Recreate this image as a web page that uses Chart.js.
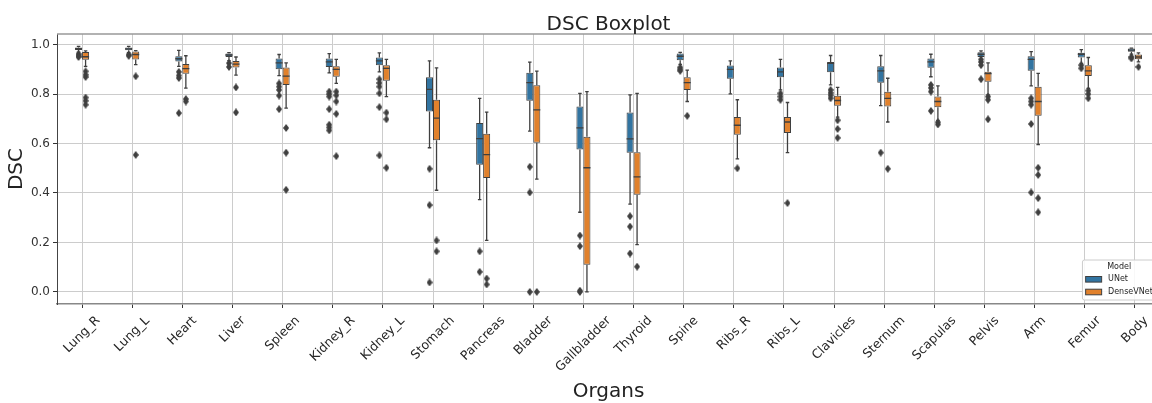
<!DOCTYPE html>
<html>
<head>
<meta charset="utf-8">
<title>DSC Boxplot</title>
<script src="https://cdn.jsdelivr.net/npm/chart.js@4.4.0/dist/chart.umd.min.js"></script>
<style>
  html, body { margin: 0; padding: 0; background: #fff; overflow: hidden; }
  #wrap { width: 1170px; height: 403px; }
</style>
</head>
<body>
<div id="wrap"><canvas id="dscChart" width="1170" height="403"></canvas></div>
<script>
// categorias
const organs = ['Lung_R','Lung_L','Heart','Liver','Spleen','Kidney_R','Kidney_L','Stomach','Pancreas','Bladder',
  'Gallbladder','Thyroid','Spine','Ribs_R','Ribs_L','Clavicles','Sternum','Scapulas','Pelvis','Arm','Femur','Body'];
const models = ['UNet', 'DenseVNet'];
const yTicks = [0.0, 0.2, 0.4, 0.6, 0.8, 1.0];

// UNet: whisker low, q1, median, q3, whisker high, outliers
const unetLow  = [0.970,0.968,0.912,0.935,0.875,0.886,0.890,0.583,0.373,0.650,0.322,0.355,0.920,0.801,0.817,0.837,0.753,0.870,0.930,0.833,0.924,0.962];
const unetQ1   = [0.978,0.977,0.932,0.950,0.900,0.910,0.917,0.730,0.514,0.773,0.576,0.563,0.937,0.862,0.868,0.888,0.846,0.906,0.950,0.894,0.948,0.971];
const unetMed  = [0.984,0.983,0.943,0.958,0.926,0.930,0.934,0.819,0.620,0.846,0.663,0.619,0.953,0.900,0.890,0.924,0.894,0.930,0.961,0.940,0.961,0.978];
const unetQ3   = [0.988,0.988,0.953,0.964,0.944,0.944,0.948,0.868,0.683,0.886,0.750,0.726,0.964,0.916,0.908,0.930,0.913,0.944,0.969,0.953,0.967,0.984];
const unetHigh = [0.993,0.993,0.977,0.968,0.960,0.964,0.967,0.934,0.783,0.929,0.803,0.797,0.969,0.934,0.940,0.956,0.956,0.961,0.975,0.972,0.980,0.986];
const unetOut  = [
  [0.962,0.955,0.950], [0.960,0.955], [0.890,0.875,0.865,0.723], [0.925,0.910],
  [0.843,0.830,0.817,0.794,0.739], [0.810,0.800,0.790,0.739,0.676,0.665,0.653],
  [0.860,0.845,0.830,0.803,0.747,0.552], [0.498,0.351,0.038], [0.164,0.081], [0.506,0.402,0.0],
  [0.228,0.185,0.0,0.005], [0.306,0.264,0.155], [0.908,0.900,0.894], [], [0.803,0.790,0.777],
  [0.817,0.805,0.795,0.783], [0.563], [0.837,0.825,0.810,0.732], [0.940,0.930,0.917,0.860],
  [0.783,0.770,0.757,0.679,0.402], [0.917,0.904], [0.950,0.944]
];

// DenseVNet
const denseLow  = [0.912,0.919,0.824,0.877,0.743,0.843,0.790,0.411,0.208,0.456,0.000,0.191,0.770,0.538,0.563,0.707,0.687,0.694,0.797,0.596,0.823,0.930];
const denseQ1   = [0.939,0.940,0.882,0.908,0.837,0.870,0.854,0.613,0.461,0.603,0.110,0.393,0.817,0.636,0.643,0.753,0.750,0.747,0.850,0.712,0.873,0.941];
const denseMed  = [0.951,0.960,0.903,0.921,0.873,0.900,0.904,0.703,0.555,0.736,0.502,0.465,0.846,0.674,0.687,0.774,0.783,0.770,0.883,0.770,0.894,0.950];
const denseQ3   = [0.970,0.972,0.922,0.934,0.908,0.913,0.917,0.777,0.640,0.836,0.627,0.565,0.868,0.707,0.707,0.793,0.809,0.790,0.890,0.830,0.917,0.960];
const denseHigh = [0.975,0.976,0.955,0.950,0.926,0.940,0.940,0.906,0.727,0.893,0.810,0.803,0.897,0.777,0.766,0.827,0.864,0.833,0.926,0.884,0.948,0.967];
const denseOut  = [
  [0.892,0.878,0.869,0.786,0.773,0.757], [0.872,0.554], [0.780,0.770], [0.827,0.726],
  [0.663,0.563,0.413], [0.810,0.795,0.770,0.720,0.549], [0.725,0.698,0.502], [0.208,0.164],
  [0.054,0.030], [0.0], [], [0.102], [0.712], [0.500], [0.359], [0.694,0.659,0.623], [0.498],
  [0.686,0.677], [0.790,0.777,0.698], [0.502,0.473,0.379,0.322], [0.814,0.800,0.783], [0.910]
];

const colors = ['#3274a1', '#e1812c'];
const edge = '#3f3f3f';
const FONT = '"DejaVu Sans", "Liberation Sans", sans-serif';
const HALF = 0.07;   // meia largura da caixa (unidades do eixo x)
const CAP = 0.035;   // meia largura do cap

// losango fino para os outliers (marcador 'd')
function thinDiamond() {
  const c = document.createElement('canvas');
  c.width = 6; c.height = 8;
  const g = c.getContext('2d');
  g.fillStyle = edge;
  g.beginPath();
  g.moveTo(3, 0); g.lineTo(6, 4); g.lineTo(3, 8); g.lineTo(0, 4);
  g.closePath(); g.fill();
  return c;
}
const diamond = thinDiamond();

function boxData(q1, q3) {
  return organs.map((_, i) => ({ x: i, y: [q1[i], q3[i]] }));
}

function whiskerData(lo, q1, q3, hi, off) {
  const pts = [];
  organs.forEach((_, i) => {
    const cx = i + off;
    pts.push({x: cx, y: lo[i]}, {x: cx, y: q1[i]}, {x: cx, y: null});
    pts.push({x: cx, y: q3[i]}, {x: cx, y: hi[i]}, {x: cx, y: null});
    pts.push({x: cx - CAP, y: lo[i]}, {x: cx + CAP, y: lo[i]}, {x: cx, y: null});
    pts.push({x: cx - CAP, y: hi[i]}, {x: cx + CAP, y: hi[i]}, {x: cx, y: null});
  });
  return pts;
}

function medianData(med, off) {
  const pts = [];
  organs.forEach((_, i) => {
    const cx = i + off;
    pts.push({x: cx - HALF, y: med[i]}, {x: cx + HALF, y: med[i]}, {x: cx, y: null});
  });
  return pts;
}

function outlierData(out, off) {
  const pts = [];
  out.forEach((vals, i) => vals.forEach(v => pts.push({ x: i + off, y: v })));
  return pts;
}

const lineBase = { type: 'line', borderColor: edge, borderWidth: 1.3, pointRadius: 0, spanGaps: false, fill: false };

const datasets = [
  { ...lineBase, label: 'med-unet', data: medianData(unetMed, -HALF), order: 0 },
  { ...lineBase, label: 'med-dense', data: medianData(denseMed, HALF), order: 0 },
  { type: 'scatter', label: 'out-unet', data: outlierData(unetOut, -HALF), pointStyle: diamond,
    pointRadius: 3, order: 1 },
  { type: 'scatter', label: 'out-dense', data: outlierData(denseOut, HALF), pointStyle: diamond,
    pointRadius: 3, order: 1 },
  { type: 'bar', label: models[0], data: boxData(unetQ1, unetQ3), backgroundColor: colors[0],
    borderColor: edge, borderWidth: 1, borderSkipped: false, categoryPercentage: 0.28, barPercentage: 1, order: 2 },
  { type: 'bar', label: models[1], data: boxData(denseQ1, denseQ3), backgroundColor: colors[1],
    borderColor: edge, borderWidth: 1, borderSkipped: false, categoryPercentage: 0.28, barPercentage: 1, order: 2 },
  { ...lineBase, label: 'wh-unet', data: whiskerData(unetLow, unetQ1, unetQ3, unetHigh, -HALF), order: 3 },
  { ...lineBase, label: 'wh-dense', data: whiskerData(denseLow, denseQ1, denseQ3, denseHigh, HALF), order: 3 }
];

// titulo, rotulos rotacionados, legenda e borda de cima
const decor = {
  id: 'decor',
  afterDraw(chart) {
    const { ctx, chartArea: ca, scales: { x } } = chart;
    ctx.save();

    ctx.strokeStyle = '#999';
    ctx.lineWidth = 1.5;
    ctx.beginPath(); ctx.moveTo(ca.left, ca.top); ctx.lineTo(ca.right, ca.top); ctx.stroke();

    ctx.fillStyle = '#222';
    ctx.font = '20px ' + FONT;
    ctx.textAlign = 'center';
    ctx.textBaseline = 'alphabetic';
    ctx.fillText('DSC Boxplot', (ca.left + ca.right) / 2, ca.top - 4.5);

    // rotulos do eixo x, centrados no tick (45 graus)
    const fs = 12.5;
    ctx.font = fs + 'px ' + FONT;
    ctx.fillStyle = '#262626';
    ctx.textBaseline = 'middle';
    organs.forEach((name, i) => {
      const px = x.getPixelForValue(i);
      const w = ctx.measureText(name).width;
      const s = (w + fs * 1.17) / Math.SQRT2;
      ctx.save();
      ctx.translate(px, ca.bottom + 9.5 + s / 2);
      ctx.rotate(-Math.PI / 4);
      ctx.fillText(name, 0, 0);
      ctx.restore();
    });

    // legenda
    const lf = 8;
    ctx.font = lf + 'px ' + FONT;
    const tw = Math.max(...models.map(m => ctx.measureText(m).width));
    const lw = 0.4 * lf + 2 * lf + 0.8 * lf + tw + 0.4 * lf;
    const right = ca.right - 4, bottom = ca.bottom - 4, top = bottom - 40, left = right - lw;
    ctx.fillStyle = 'rgba(255,255,255,0.85)';
    ctx.strokeStyle = '#cccccc';
    ctx.lineWidth = 1;
    ctx.beginPath();
    ctx.roundRect(left, top, lw, bottom - top, 2);
    ctx.fill(); ctx.stroke();
    ctx.fillStyle = '#262626';
    ctx.textAlign = 'center';
    ctx.fillText('Model', (left + right) / 2, top + 7);
    ctx.textAlign = 'left';
    models.forEach((m, k) => {
      const cy = top + 19.3 + k * 12.7;
      ctx.fillStyle = colors[k];
      ctx.fillRect(left + 3.2, cy - 2.8, 16, 5.6);
      ctx.strokeStyle = edge;
      ctx.strokeRect(left + 3.2, cy - 2.8, 16, 5.6);
      ctx.fillStyle = '#262626';
      ctx.fillText(m, left + 25.6, cy);
    });

    ctx.restore();
  }
};

new Chart(document.getElementById('dscChart'), {
  data: { datasets },
  options: {
    responsive: false,
    devicePixelRatio: 1,
    animation: false,
    layout: { padding: { top: 34, right: 10, left: 0, bottom: 0 } },
    plugins: { legend: { display: false }, tooltip: { enabled: false } },
    scales: {
      x: {
        type: 'linear',
        min: -0.5, max: 21.5,
        offset: false,
        afterBuildTicks: s => { s.ticks = organs.map((_, i) => ({ value: i })); },
        afterFit: s => { s.height = 99; },
        ticks: { display: false },
        grid: { offset: false, color: '#cccccc', lineWidth: 1, tickColor: '#333', tickLength: 4 },
        border: { color: '#888', width: 1.5 },
        title: { display: true, text: 'Organs', color: '#222', font: { family: FONT, size: 20, lineHeight: 1 }, padding: { top: 0, bottom: 1 } }
      },
      y: {
        min: -0.049, max: 1.043,
        afterBuildTicks: s => { s.ticks = yTicks.map(v => ({ value: v })); },
        afterFit: s => { s.width = 57; },
        ticks: { color: '#333', padding: 3, font: { family: FONT, size: 12 }, callback: v => Number(v).toFixed(1) },
        grid: { color: '#cccccc', lineWidth: 1, tickColor: '#333', tickLength: 4 },
        border: { color: '#444', width: 1 },
        title: { display: true, text: 'DSC', color: '#222', font: { family: FONT, size: 20, lineHeight: 1 }, padding: { top: 7, bottom: 0 } }
      }
    }
  },
  plugins: [decor]
});
</script>
</body>
</html>
